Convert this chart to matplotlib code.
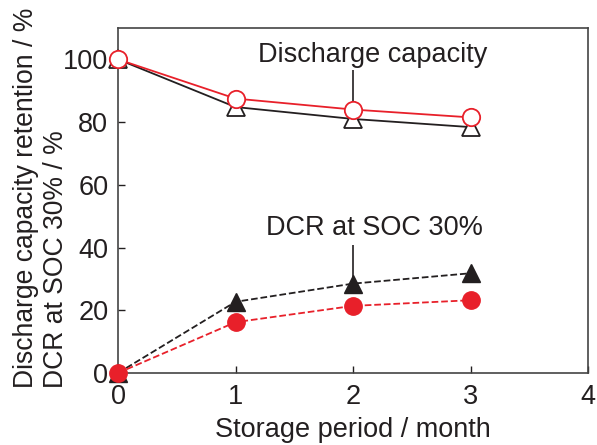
import matplotlib
matplotlib.use('Agg')
import matplotlib.pyplot as plt

plt.rcParams['font.family'] = ['Liberation Sans', 'DejaVu Sans']

months = [0, 1, 2, 3]
cap_red = [100, 87.5, 84, 81.5]      # open red circles
cap_black = [100, 84.8, 81, 78.4]    # open black triangles
dcr_black = [0, 22.7, 28.5, 31.8]    # filled black triangles
dcr_red = [0, 16.2, 21.4, 23.2]      # filled red circles

ylabel_lines = ['Discharge capacity retention / %', 'DCR at SOC 30% / %']

red = '#e8202a'
dark = '#231f20'
fs = 19.5

fig = plt.figure(figsize=(5.97, 4.45), dpi=100)
ax = fig.add_axes([118 / 597, 1 - 373 / 445, 470 / 597, 345 / 445])

ax.plot(months, cap_black, '-', color=dark, lw=1.3, marker='^', ms=12.5,
        mfc='white', mec=dark, mew=1.3, zorder=3)
ax.plot(months, cap_red, '-', color=red, lw=1.3, marker='o', ms=12.5,
        mfc='white', mec=red, mew=1.3, zorder=4)
ax.plot(months, dcr_black, '--', color=dark, lw=1.3, marker='^', ms=12.5,
        mfc=dark, mec=dark, zorder=3)
ax.plot(months, dcr_red, '--', color=red, lw=1.3, marker='o', ms=12.5,
        mfc=red, mec=red, zorder=4)

# labels with leader lines
ax.vlines(2, 86.4, 96.6, color=dark, lw=1.2)
ax.text(2.17, 101.4, 'Discharge capacity', ha='center', va='center',
        fontsize=fs, color=dark)
ax.vlines(2, 30.6, 40.8, color=dark, lw=1.2)
ax.text(2.185, 46.2, 'DCR at SOC 30%', ha='center', va='center',
        fontsize=fs, color=dark)

ax.set_xlim(0, 4)
ax.set_ylim(0, 110)
ax.set_xticks([0, 1, 2, 3, 4])
ax.set_yticks([0, 20, 40, 60, 80, 100])
ax.tick_params(direction='in', length=5, width=1, labelsize=fs,
               colors=dark, pad=7)
ax.tick_params(axis='x', pad=8)
for s in ax.spines.values():
    s.set_color('#444444')
    s.set_linewidth(1.2)

ax.set_xlabel('Storage period / month', fontsize=fs, color=dark, labelpad=5)

# two-line y label, both lines start at the bottom
for txt, xb in zip(ylabel_lines, [33, 63]):
    fig.text(xb / 597, 1 - 388 / 445, txt, rotation=90, rotation_mode='anchor',
             ha='left', va='baseline', fontsize=19.1, color=dark)

for line in ax.lines:
    line.set_clip_on(False)

fig.savefig('out.png', dpi=100)
